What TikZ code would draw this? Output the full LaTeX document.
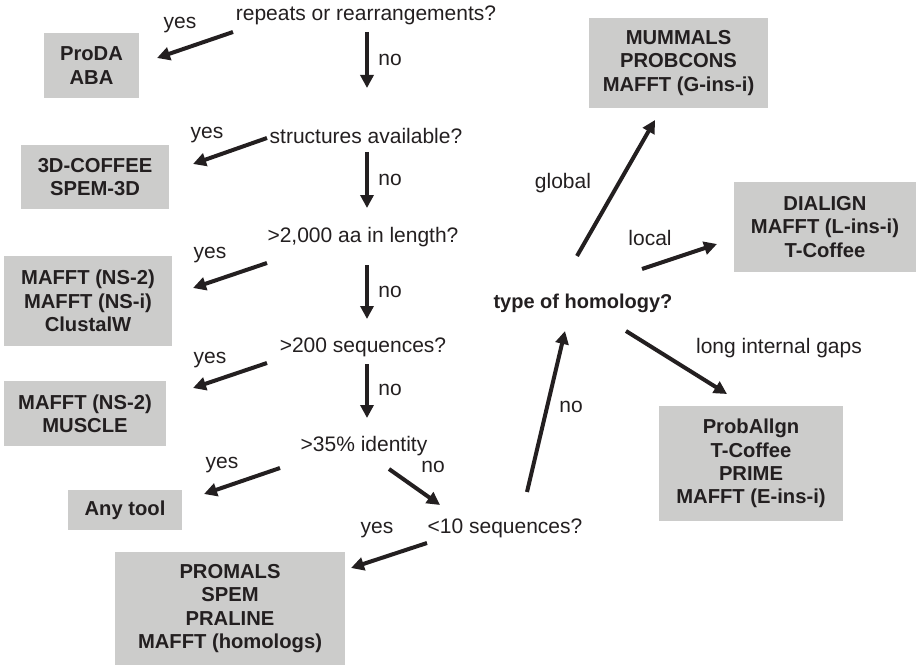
\documentclass[tikz,border=0pt]{standalone}
\usepackage{fontspec}
\setmainfont{Liberation Sans}
\usetikzlibrary{arrows.meta}
\definecolor{ink}{HTML}{231F20}
\definecolor{boxgray}{HTML}{CCCCCB}
\begin{document}
\begin{tikzpicture}[x=1pt,y=-1pt,
  every node/.style={text=ink,font=\fontsize{21}{24}\selectfont,inner sep=0pt},
  question/.style={},
  lbl/.style={},
  toolbox/.style={fill=boxgray,align=center,font=\fontsize{20.2}{23.3}\selectfont\bfseries},
  arr/.style={draw=ink,line width=4pt,-{Triangle[length=13pt,width=13pt]}}]
\useasboundingbox (0,0) rectangle (916,666);
% tool boxes
\node[toolbox,minimum width=95pt,minimum height=65pt] (b1) at (91.5,65.5) {ProDA\\ABA};
\node[toolbox,minimum width=148pt,minimum height=64pt] (b2) at (95,177) {3D-COFFEE\\SPEM-3D};
\node[toolbox,minimum width=168pt,minimum height=90pt] (b3) at (88,301) {MAFFT (NS-2)\\MAFFT (NS-i)\\ClustalW};
\node[toolbox,minimum width=162pt,minimum height=65pt] (b4) at (85,413.5) {MAFFT (NS-2)\\MUSCLE};
\node[toolbox,minimum width=114pt,minimum height=40pt] (b5) at (125,510) {Any tool};
\node[toolbox,minimum width=230pt,minimum height=113pt] (b6) at (230,608.5) {PROMALS\\SPEM\\PRALINE\\MAFFT (homologs)};
\node[toolbox,minimum width=179pt,minimum height=90pt] (b7) at (678.5,63) {MUMMALS\\PROBCONS\\MAFFT (G-ins-i)};
\node[toolbox,minimum width=182pt,minimum height=90pt] (b8) at (825,227) {DIALIGN\\MAFFT (L-ins-i)\\T-Coffee};
\node[toolbox,minimum width=184pt,minimum height=115pt] (b9) at (751,463.5) {ProbAllgn\\T-Coffee\\PRIME\\MAFFT (E-ins-i)};
% questions
\node[question] (q1) at (366,15) {repeats or rearrangements?};
\node[question] (q2) at (366,136) {structures available?};
\node[question] (q3) at (363,237) {>2,000 aa in length?};
\node[question] (q4) at (363,347) {>200 sequences?};
\node[question] (q5) at (364,446) {>35\% identity};
\node[question] (q6) at (505,528) {<10 sequences?};
\node[question,font=\fontsize{20}{23.5}\selectfont\bfseries] (q7) at (583,303) {type of homology?};
% labels
\node[lbl] (l1) at (180,25) {yes};
\node[lbl] (l2) at (390,60) {no};
\node[lbl] (l3) at (207,135) {yes};
\node[lbl] (l4) at (390,180) {no};
\node[lbl] (l5) at (210,255) {yes};
\node[lbl] (l6) at (390,292) {no};
\node[lbl] (l7) at (210,360) {yes};
\node[lbl] (l8) at (390,390) {no};
\node[lbl] (l9) at (222,465) {yes};
\node[lbl] (l10) at (433,467) {no};
\node[lbl] (l11) at (377,530) {yes};
\node[lbl] (l12) at (571,407) {no};
\node[lbl] (l13) at (563,183) {global};
\node[lbl] (l14) at (650,238) {local};
\node[lbl] (l15) at (779,348) {long internal gaps};
% arrow end points
\coordinate (a1s) at (233,32);  \coordinate (a1e) at (157,58);
\coordinate (a2s) at (367,32);  \coordinate (a2e) at (367,88);
\coordinate (a3s) at (267,138); \coordinate (a3e) at (193,164);
\coordinate (a4s) at (367,152); \coordinate (a4e) at (367,208);
\coordinate (a5s) at (267,263); \coordinate (a5e) at (193,288);
\coordinate (a6s) at (367,265); \coordinate (a6e) at (367,319);
\coordinate (a7s) at (267,363); \coordinate (a7e) at (193,388);
\coordinate (a8s) at (367,364); \coordinate (a8e) at (367,418);
\coordinate (a9s) at (280,468); \coordinate (a9e) at (204,494);
\coordinate (a10s) at (389,469); \coordinate (a10e) at (440,505);
\coordinate (a11s) at (427,543); \coordinate (a11e) at (351,568);
\coordinate (a12s) at (527,492); \coordinate (a12e) at (565,331);
\coordinate (a13s) at (577,256); \coordinate (a13e) at (655,120);
\coordinate (a14s) at (642,269); \coordinate (a14e) at (717,244);
\coordinate (a15s) at (626,331); \coordinate (a15e) at (727,394);
\foreach \i in {1,...,15} {\draw[arr] (a\i s) -- (a\i e);}
\end{tikzpicture}
\end{document}
